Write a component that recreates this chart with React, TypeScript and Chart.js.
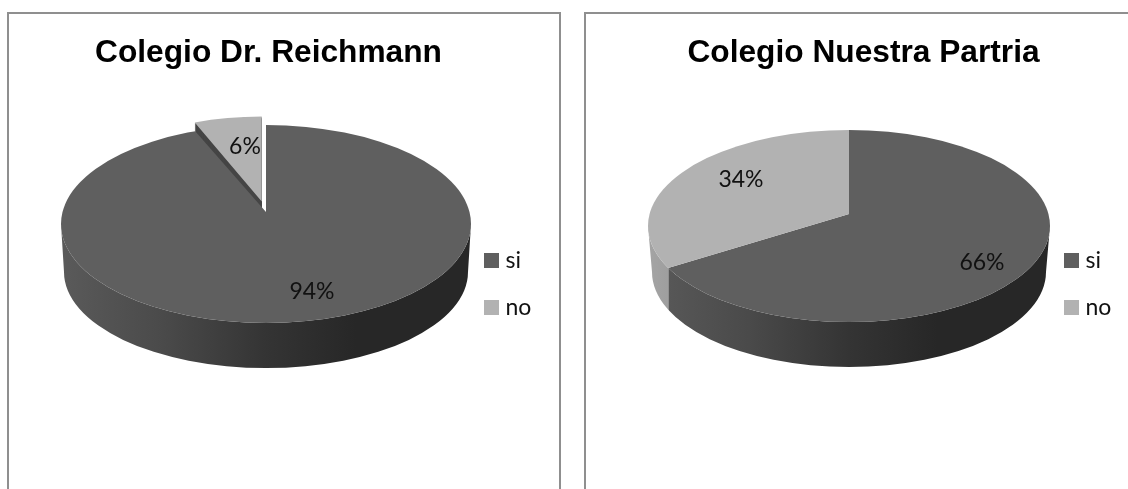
import React, { useEffect, useRef } from "react";
import { Chart, registerables } from "chart.js";

Chart.register(...registerables);

const categories = ["si", "no"];
const reichmannValues = [94, 6];
const patriaValues = [66, 34];
const reichmannExplode = [0, 0.125];
const patriaExplode = [0, 0];
const sliceColors = ["#5f5f5f", "#b2b2b2"];
const wallStops = [
  [[0, "#5a5a5a"], [0.25, "#4a4a4a"], [0.5, "#343434"], [0.72, "#272727"], [1, "#272727"]],
  [[0, "#a4a4a4"], [0.5, "#707070"], [1, "#555555"]],
];

type Geo = {
  cx: number; ey: number; rx: number; ry: number;
  bx: number; by: number; brx: number; bry: number;
  ax: number; ay: number; upper: number; lower: number;
  sliceRx: number; sliceRy: number;
  labels: number[][];
  legendX: number; legendY: number;
  explode: number[];
};

const K = 290;
const TAU = Math.PI * 2;

function makePlugin(g: Geo) {
  return {
    id: "pie3d",
    afterLayout(chart: any) {
      const l = chart.legend;
      l.left = g.legendX;
      l.top = g.legendY;
    },
    beforeDatasetsDraw(chart: any) {
      const ctx = chart.ctx as CanvasRenderingContext2D;
      const els = chart.getDatasetMeta(0).data as any[];
      const R = els[0].outerRadius;
      const X0 = els[0].x;
      const Y0 = els[0].y;

      // exploded slice: position, and its side wall behind the main disc
      const placeExploded = (el: any, f: number) => {
        const mid = (el.startAngle + el.endAngle) / 2;
        return {
          x: g.ax + Math.cos(mid) * f * g.sliceRx,
          y: g.ay + Math.sin(mid) * f * g.sliceRy,
        };
      };
      els.forEach((el, i) => {
        const f = g.explode[i];
        if (!f) return;
        const p = placeExploded(el, f);
        ctx.save();
        ctx.fillStyle = "#454545";
        for (let d = 1; d <= g.by - g.ey; d += 1) {
          ctx.save();
          ctx.translate(p.x, p.y + d);
          ctx.scale(g.sliceRx / R, g.sliceRy / R);
          ctx.beginPath();
          ctx.moveTo(0, 0);
          ctx.arc(0, 0, R, el.startAngle, el.endAngle);
          ctx.closePath();
          ctx.fill();
          ctx.restore();
        }
        ctx.restore();
      });

      // side wall, split by the slice each front point belongs to
      const owner = (u: number) => {
        const px = g.cx + g.rx * Math.cos(u);
        const py = g.ey + g.ry * Math.sin(u);
        let a = Math.atan2((py - g.ay) / g.lower, px - g.ax);
        if (a < -Math.PI / 2) a += TAU;
        for (let i = 0; i < els.length; i += 1) {
          if (a >= els[i].startAngle && a <= els[i].endAngle) return { i, px };
        }
        return { i: 0, px };
      };
      const ranges: number[][] = els.map(() => [Infinity, -Infinity]);
      for (let s = 0; s <= 720; s += 1) {
        const { i, px } = owner((s / 720) * Math.PI);
        ranges[i][0] = Math.min(ranges[i][0], px);
        ranges[i][1] = Math.max(ranges[i][1], px);
      }
      els.forEach((_, i) => {
        if (g.explode[i] || ranges[i][0] > ranges[i][1]) return;
        const grad = ctx.createLinearGradient(g.cx - g.rx, 0, g.cx + g.rx, 0);
        wallStops[i].forEach((st) => grad.addColorStop(st[0] as number, st[1] as string));
        ctx.save();
        ctx.beginPath();
        ctx.rect(ranges[i][0], 0, ranges[i][1] - ranges[i][0], chart.height);
        ctx.clip();
        ctx.fillStyle = grad;
        ctx.beginPath();
        ctx.ellipse(g.cx, g.ey, g.rx, g.ry, 0, 0, Math.PI);
        ctx.lineTo(g.bx - g.brx, g.by);
        ctx.ellipse(g.bx, g.by, g.brx, g.bry, 0, Math.PI, 0, true);
        ctx.closePath();
        ctx.fill();
        ctx.restore();
      });

      // top of the disc: library arcs, seen from above around the apex
      [true, false].forEach((isUpper) => {
        const ratio = isUpper ? g.upper : g.lower;
        ctx.save();
        ctx.beginPath();
        ctx.rect(0, isUpper ? 0 : g.ay, chart.width, isUpper ? g.ay : chart.height - g.ay);
        ctx.clip();
        ctx.beginPath();
        ctx.ellipse(g.cx, g.ey, g.rx, g.ry, 0, 0, TAU);
        ctx.clip();
        ctx.translate(g.ax, g.ay);
        ctx.scale(K / R, (K * ratio) / R);
        ctx.translate(-X0, -Y0);
        els.forEach((el, i) => {
          if (!g.explode[i]) el.draw(ctx);
        });
        ctx.restore();
      });

      // exploded slice top
      els.forEach((el, i) => {
        const f = g.explode[i];
        if (!f) return;
        const p = placeExploded(el, f);
        ctx.save();
        ctx.translate(p.x, p.y);
        ctx.scale(g.sliceRx / R, g.sliceRy / R);
        ctx.translate(-X0, -Y0);
        el.draw(ctx);
        ctx.restore();
      });

      // percentage labels
      const values = chart.data.datasets[0].data as number[];
      ctx.save();
      ctx.font = "23px Lato";
      ctx.fillStyle = "#111111";
      ctx.textAlign = "center";
      ctx.textBaseline = "middle";
      values.forEach((v, i) => {
        ctx.fillText(`${v}%`, g.ax + g.labels[i][0], g.ay + g.labels[i][1]);
      });
      ctx.restore();
      return false;
    },
  };
}

function PieCanvas(props: {
  title: string; values: number[]; geo: Geo; left: number; width: number;
}) {
  const ref = useRef<HTMLCanvasElement | null>(null);
  useEffect(() => {
    if (!ref.current) return;
    const chart = new Chart(ref.current, {
      type: "pie",
      data: {
        labels: categories,
        datasets: [{ data: props.values, backgroundColor: sliceColors, borderWidth: 0, clip: false } as any],
      },
      options: {
        animation: false,
        responsive: false,
        plugins: {
          tooltip: { enabled: false },
          title: {
            display: true,
            text: props.title,
            color: "#000000",
            font: { family: "'Liberation Sans'", weight: "bold", size: 31.7 },
            padding: { top: 34, bottom: 10 },
          },
          legend: {
            display: true,
            position: "right",
            align: "start",
            labels: {
              boxWidth: 5,
              boxHeight: 5,
              padding: 24,
              color: "#111111",
              font: { family: "Lato", size: 23 },
              generateLabels: (chart: any) =>
                (Chart as any).overrides.pie.plugins.legend.labels
                  .generateLabels(chart)
                  .map((item: any) => ({
                    ...item,
                    lineWidth: 10,
                    strokeStyle: item.fillStyle,
                    lineJoin: "miter",
                  })),
            },
          },
        },
      } as any,
      plugins: [makePlugin(props.geo)] as any,
    });
    return () => chart.destroy();
  }, []);
  return (
    <canvas
      ref={ref}
      width={props.width}
      height={489}
      style={{ position: "absolute", left: props.left, top: 0, width: props.width, height: 489 }}
    />
  );
}

const leftGeo: Geo = {
  cx: 276, ey: 224, rx: 205, ry: 99,
  bx: 276, by: 272, brx: 202, bry: 96,
  ax: 276, ay: 212, upper: 0.452, lower: 0.47,
  sliceRx: 182, sliceRy: 85,
  labels: [[46, 80], [-21, -65]],
  legendX: 475, legendY: 225,
  explode: reichmannExplode,
};

const rightGeo: Geo = {
  cx: 279, ey: 226, rx: 201, ry: 96,
  bx: 279, by: 272, brx: 197, bry: 95,
  ax: 279, ay: 214, upper: 0.47, lower: 0.47,
  sliceRx: 182, sliceRy: 85,
  labels: [[133, 49], [-108, -34]],
  legendX: 475, legendY: 225,
  explode: patriaExplode,
};

const frame: React.CSSProperties = {
  position: "absolute",
  top: 12,
  height: 600,
  boxSizing: "border-box",
  border: "2.5px solid #8f8f8f",
  background: "#ffffff",
};

export default function App() {
  useEffect(() => {
    document.body.style.margin = "0";
  }, []);
  return (
    <div style={{ position: "fixed", left: 0, top: 0, width: 1128, height: 489, overflow: "hidden", background: "#ffffff" }}>
      <div style={{ ...frame, left: 7, width: 554 }} />
      <div style={{ ...frame, left: 584, width: 600 }} />
      <PieCanvas title="Colegio Dr. Reichmann" values={reichmannValues} geo={leftGeo} left={-10} width={557} />
      <PieCanvas title="Colegio Nuestra Partria" values={patriaValues} geo={rightGeo} left={570} width={587} />
    </div>
  );
}
